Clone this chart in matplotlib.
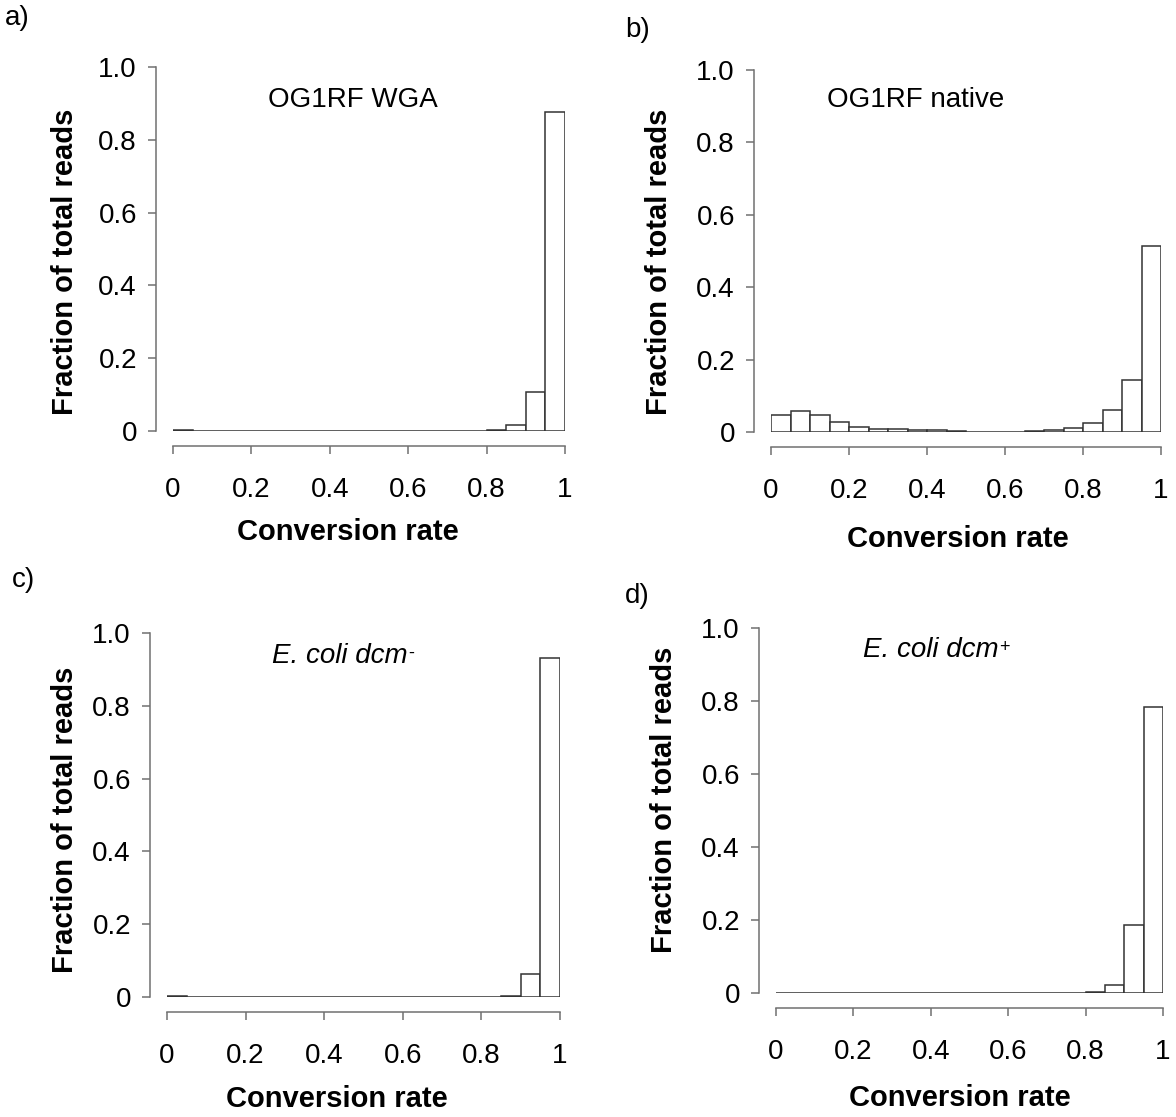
import numpy as np
import matplotlib
matplotlib.use('Agg')
import matplotlib.pyplot as plt

plt.rcParams['font.family'] = ['Liberation Sans', 'DejaVu Sans']

# fraction of reads per conversion-rate bin (20 bins of width 0.05)
wga = [0.002, 0, 0, 0, 0, 0, 0, 0, 0, 0,
       0, 0, 0, 0, 0, 0, 0.002, 0.016, 0.106, 0.876]
native = [0.046, 0.058, 0.046, 0.027, 0.013, 0.008, 0.008, 0.005, 0.005, 0.003,
          0.001, 0.001, 0.001, 0.003, 0.005, 0.012, 0.025, 0.062, 0.144, 0.513]
dcm_minus = [0.002, 0, 0, 0, 0, 0, 0, 0, 0, 0,
             0, 0, 0, 0, 0, 0, 0, 0.004, 0.064, 0.932]
dcm_plus = [0, 0, 0, 0, 0, 0, 0, 0, 0, 0,
            0, 0, 0, 0, 0, 0, 0.002, 0.023, 0.186, 0.784]

bin_edges = np.linspace(0, 1, 21)
y_ticks = [0, 0.2, 0.4, 0.6, 0.8, 1.0]
y_ticklabels = ['0', '0.2', '0.4', '0.6', '0.8', '1.0']
x_ticks = [0, 0.2, 0.4, 0.6, 0.8, 1.0]
x_ticklabels = ['0', '0.2', '0.4', '0.6', '0.8', '1']

W, H = 1176, 1117
fig = plt.figure(figsize=(W / 100, H / 100), dpi=100)

# (values, title, superscript, rect in px [l, t, r, b], title pos, ylabel pos, xlabel pos)
panels = [
    (wga, 'OG1RF WGA', None, (173, 67, 565, 431), (0.459, 0.909), (-0.24, 0.464), (0.446, -0.239)),
    (native, 'OG1RF native', None, (771, 70, 1161, 432), (0.372, 0.917), (-0.251, 0.47), (0.48, -0.257)),
    (dcm_minus, 'E. coli dcm', '-', (167, 633, 560, 997), (0.44, 0.937), (-0.224, 0.486), (0.433, -0.242)),
    (dcm_plus, 'E. coli dcm', '+', (776, 628, 1163, 993), (0.40, 0.94), (-0.253, 0.53), (0.475, -0.249)),
]

axis_col = '#707070'
sup_texts = []
for vals, title, sup, (l, t, r, b), tpos, ylpos, xlpos in panels:
    ax = fig.add_axes([l / W, (H - b) / H, (r - l) / W, (b - t) / H])
    ax.bar(bin_edges[:-1], vals, width=np.diff(bin_edges), align='edge',
           facecolor='white', edgecolor='#333333', linewidth=1.1)
    ax.set_xlim(0, 1)
    ax.set_ylim(0, 1)
    for s in ['top', 'right']:
        ax.spines[s].set_visible(False)
    ax.spines['left'].set_position(('outward', 12))
    ax.spines['bottom'].set_position(('outward', 11))
    ax.spines['left'].set_bounds(0, 1)
    ax.spines['bottom'].set_bounds(0, 1)
    for s in ['left', 'bottom']:
        ax.spines[s].set_color(axis_col)
        ax.spines[s].set_linewidth(1.1)
    ax.set_yticks(y_ticks)
    ax.set_yticklabels(y_ticklabels)
    ax.set_xticks(x_ticks)
    ax.set_xticklabels(x_ticklabels)
    ax.tick_params(axis='y', length=6, width=1.1, color=axis_col, labelsize=20, pad=8)
    ax.tick_params(axis='x', length=6, width=1.1, color=axis_col, labelsize=20, pad=16)
    ax.set_ylabel('Fraction of total reads', fontsize=21, fontweight='bold')
    ax.yaxis.set_label_coords(*ylpos)
    ax.set_xlabel('Conversion rate', fontsize=21, fontweight='bold')
    ax.xaxis.set_label_coords(*xlpos)
    tt = ax.text(tpos[0], tpos[1], title, transform=ax.transAxes, fontsize=20,
                 ha='center', va='center', style='italic' if sup else 'normal')
    if sup:
        sup_texts.append((ax, tt, sup))

# superscript signs placed right after the italic titles
fig.canvas.draw()
renderer = fig.canvas.get_renderer()
for ax, tt, sup in sup_texts:
    bb = tt.get_window_extent(renderer)
    fig.text((bb.x1 + 1) / W, (bb.y1 - 2) / H, sup, fontsize=13,
             ha='left', va='top')

for lab, (px, py) in zip(['a)', 'b)', 'c)', 'd)'],
                         [(5, 18), (625, 30), (12, 580), (625, 596)]):
    fig.text(px / W, 1 - py / H, lab, fontsize=20, ha='left', va='center')

fig.savefig('out.png', dpi=100, facecolor='white')
